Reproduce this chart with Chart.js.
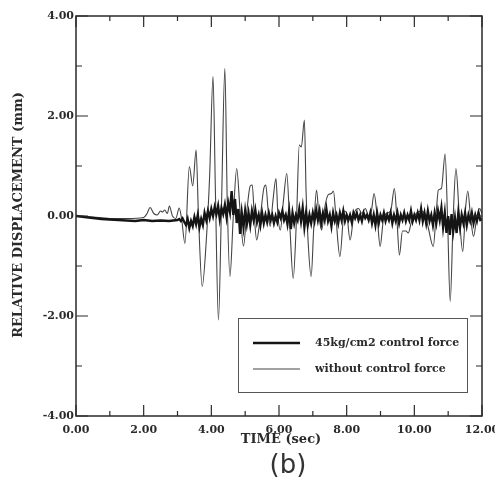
<!DOCTYPE html>
<html>
<head>
<meta charset="utf-8">
<script src="https://cdn.jsdelivr.net/npm/chart.js@4.4.1/dist/chart.umd.min.js"></script>
<style>
html, body { margin: 0; padding: 0; background: #fff; }
canvas { display: block; }
</style>
</head>
<body>
<canvas id="chart" width="495" height="493"></canvas>
<script>

// tick positions
var xMajor = [0, 2, 4, 6, 8, 10, 12];
var xMinor = [1, 3, 5, 7, 9, 11];
var yMajor = [-4, -2, 0, 2, 4];
var yMinor = [-3, -1, 1, 3];

// "without control force": [time (sec), displacement (mm)] read at the turning points
var freeResponse = [
	[0, 0], [0.5, -0.02], [1.0, -0.05], [1.5, -0.05], [2.0, -0.03], [2.1, 0.05],
	[2.19, 0.17], [2.3, 0.05], [2.4, 0.02], [2.5, 0.1], [2.56, 0.08], [2.62, 0.12],
	[2.7, 0.05], [2.76, 0.2], [2.85, 0.0], [2.95, -0.05], [3.05, 0.16], [3.12, -0.05],
	[3.22, -0.55], [3.35, 0.99], [3.45, 0.6], [3.55, 1.32], [3.62, 0.0], [3.73, -1.41],
	[3.85, -0.5], [3.95, 0.8], [4.05, 2.79], [4.12, 0.5], [4.21, -2.08], [4.30, 0.2],
	[4.40, 2.95], [4.47, 0.3], [4.55, -1.21], [4.65, 0.0], [4.75, 0.95], [4.85, 0.1],
	[4.95, -0.6], [5.05, 0.1], [5.15, 0.6], [5.21, 0.62], [5.27, 0.0], [5.34, -0.48],
	[5.45, 0.0], [5.55, 0.55], [5.61, 0.62], [5.68, 0.1], [5.74, -0.21], [5.82, 0.3],
	[5.91, 0.75], [5.97, 0.0], [6.04, -0.28], [6.13, 0.3], [6.23, 0.85], [6.32, -0.2],
	[6.42, -1.25], [6.52, 0.0], [6.60, 1.42], [6.66, 1.38], [6.75, 1.92], [6.80, 0.5],
	[6.86, -0.5], [6.95, -1.21], [7.03, -0.2], [7.11, 0.52], [7.18, 0.0], [7.26, -0.28],
	[7.36, 0.2], [7.45, 0.42], [7.55, 0.45], [7.61, 0.5], [7.68, 0.0], [7.80, -0.81],
	[7.93, 0.1], [8.00, 0.05], [8.10, -0.48], [8.22, 0.05], [8.35, 0.15], [8.45, 0.05],
	[8.55, 0.15], [8.65, 0.0], [8.73, 0.1], [8.81, 0.45], [8.90, 0.0], [8.99, -0.61],
	[9.08, -0.1], [9.17, 0.05], [9.30, 0.1], [9.41, 0.55], [9.48, 0.0], [9.56, -0.78],
	[9.65, -0.3], [9.75, -0.3], [9.82, -0.34], [9.92, -0.1], [10.05, 0.05], [10.2, 0.1],
	[10.3, 0.05], [10.40, -0.2], [10.56, -0.61], [10.65, 0.1], [10.71, 0.52], [10.80, 0.55],
	[10.91, 1.24], [10.98, 0.0], [11.06, -1.71], [11.15, 0.0], [11.23, 0.95], [11.33, 0.0],
	[11.43, -0.71], [11.52, 0.2], [11.58, 0.5], [11.66, 0.0], [11.75, -0.41], [11.85, 0.0],
	[11.93, 0.15], [12.0, 0.05]
];

// "45kg/cm2 control force": sampled every 0.25 s up to 2.75 s ...
var controlEarly = [0, -0.02, -0.04, -0.06, -0.07, -0.08, -0.09, -0.1, -0.08, -0.1, -0.09, -0.1];
// ... then every 0.05 s from 3.00 s to 12.00 s
var controlLate = [
	-0.08, -0.06, -0.1, -0.05, -0.12,
	-0.18, -0.06, -0.24, -0.1, -0.2, -0.02,
	-0.16, 0.02, -0.22, -0.06, -0.18, 0.06,
	-0.08, 0.1, -0.04, 0.14, 0.0, 0.18,
	0.04, 0.2, -0.06, 0.16, 0.04, 0.22,
	-0.02, 0.26, 0.08, 0.5, 0.02, 0.34,
	-0.14, 0.14, -0.36, 0.06, -0.22, 0.1,
	-0.16, 0.06, -0.18, 0.1, -0.08, 0.12,
	-0.12, 0.02, -0.18, 0.06, -0.14, 0.02,
	-0.12, 0.06, -0.08, 0.02, -0.14, 0.0,
	-0.12, 0.06, -0.04, 0.1, -0.08, 0.02,
	-0.16, 0.1, -0.26, 0.06, -0.14, 0.02,
	-0.08, 0.14, -0.1, 0.16, -0.22, 0.06,
	-0.18, 0.02, -0.14, 0.06, -0.1, 0.12,
	-0.08, 0.1, -0.14, 0.06, -0.08, 0.14,
	-0.1, 0.02, -0.2, 0.06, -0.1, 0.02,
	-0.14, 0.06, -0.08, 0.1, -0.1, 0.02,
	-0.08, 0.02, -0.12, 0.06, -0.04, 0.06,
	-0.08, 0.02, -0.1, 0.06, -0.04, 0.02,
	-0.08, 0.06, -0.14, 0.02, -0.18, 0.06,
	-0.14, 0.02, -0.08, 0.06, -0.1, 0.02,
	-0.08, 0.06, -0.14, 0.02, -0.1, 0.06,
	-0.14, 0.02, -0.08, 0.06, -0.1, 0.02,
	-0.08, 0.1, -0.1, 0.02, -0.08, 0.06,
	-0.08, 0.14, -0.1, 0.06, -0.14, 0.1,
	-0.1, 0.02, -0.18, 0.06, -0.14, 0.1,
	-0.08, 0.16, -0.22, 0.06, -0.34, 0.0,
	-0.38, 0.04, -0.3, -0.04, -0.34, 0.06,
	-0.22, 0.02, -0.14, 0.06, -0.18, 0.02,
	-0.1, 0.06, -0.14, 0.02, -0.1, 0.06,
	-0.08, -0.06
];

var seriesNames = ['45kg/cm2 control force', 'without control force'];

function $each(arr, fn) {
	for (var i = 0; i < arr.length; i++)
		fn(i, arr[i]);
}

function controlPoints() {
	var pts = [];
	$each(controlEarly, function(i, v) { pts.push({ x: i * 0.25, y: v }); });
	$each(controlLate, function(i, v) { pts.push({ x: 3 + i * 0.05, y: v }); });
	return pts;
}

function freePoints() {
	var pts = [];
	$each(freeResponse, function(i, p) { pts.push({ x: p[0], y: p[1] }); });
	return pts;
}

var inkColor = '#2a2a2a';
var serif = '"DejaVu Serif", "Liberation Serif", serif';

var decor = {
	id: 'decor',
	afterDraw: function(chart) {
		var ctx = chart.ctx;
		var a = chart.chartArea;
		var xs = chart.scales.x;
		var ys = chart.scales.y;
		ctx.save();

		// frame
		ctx.strokeStyle = inkColor;
		ctx.lineWidth = 1.5;
		ctx.strokeRect(a.left, a.top, a.right - a.left, a.bottom - a.top);

		// inward ticks on all four sides
		ctx.lineWidth = 1.2;
		ctx.beginPath();
		function xTick(v, len) {
			var p = xs.getPixelForValue(v);
			ctx.moveTo(p, a.bottom); ctx.lineTo(p, a.bottom - len);
			ctx.moveTo(p, a.top); ctx.lineTo(p, a.top + len);
		}
		function yTick(v, len) {
			var p = ys.getPixelForValue(v);
			ctx.moveTo(a.left, p); ctx.lineTo(a.left + len, p);
			ctx.moveTo(a.right, p); ctx.lineTo(a.right - len, p);
		}
		$each(xMajor, function(i, v) { xTick(v, 11); });
		$each(xMinor, function(i, v) { xTick(v, 5); });
		$each(yMajor, function(i, v) { yTick(v, 12); });
		$each(yMinor, function(i, v) { yTick(v, 6); });
		ctx.stroke();

		// axis titles
		ctx.fillStyle = inkColor;
		ctx.font = 'bold 13px ' + serif;
		ctx.textAlign = 'center';
		ctx.textBaseline = 'middle';
		ctx.fillText('TIME (sec)', (a.left + a.right) / 2 + 2, 440);
		ctx.save();
		ctx.translate(19, 215);
		ctx.rotate(-Math.PI / 2);
		ctx.fillText('RELATIVE DISPLACEMENT (mm)', 0, 0);
		ctx.restore();

		// panel mark
		ctx.font = '26px "DejaVu Sans", sans-serif';
		ctx.fillStyle = '#333';
		ctx.fillText('(b)', 288, 466);

		// legend box
		var lx = 238, ly = 318, lw = 229, lh = 74;
		ctx.fillStyle = '#fff';
		ctx.fillRect(lx, ly, lw, lh);
		ctx.strokeStyle = '#555';
		ctx.lineWidth = 1;
		ctx.strokeRect(lx + 0.5, ly + 0.5, lw, lh);
		ctx.font = 'bold 11px ' + serif;
		ctx.textAlign = 'left';
		$each(chart.data.datasets, function(i, ds) {
			var y = ly + 25 + i * 26;
			ctx.strokeStyle = ds.borderColor;
			ctx.lineWidth = ds.borderWidth;
			ctx.beginPath();
			ctx.moveTo(lx + 15, y);
			ctx.lineTo(lx + 62, y);
			ctx.stroke();
			ctx.fillStyle = inkColor;
			ctx.fillText(ds.label, lx + 77, y);
		});
		ctx.restore();
	}
};

new Chart(document.getElementById('chart').getContext('2d'), {
	type: 'line',
	data: {
		datasets: [{
			label: seriesNames[0],
			data: controlPoints(),
			borderColor: '#151515',
			borderWidth: 2.4,
			pointRadius: 0,
			tension: 0
		}, {
			label: seriesNames[1],
			data: freePoints(),
			borderColor: '#444',
			borderWidth: 1.1,
			pointRadius: 0,
			cubicInterpolationMode: 'monotone'
		}]
	},
	options: {
		responsive: false,
		animation: false,
		devicePixelRatio: 1,
		layout: { padding: { top: 16, right: 13, left: 0, bottom: 0 } },
		plugins: {
			legend: { display: false },
			tooltip: { enabled: false }
		},
		scales: {
			x: {
				type: 'linear',
				min: 0,
				max: 12,
				border: { display: false },
				grid: { display: false, drawTicks: false },
				ticks: {
					stepSize: 2,
					padding: 8,
					maxRotation: 0,
					color: inkColor,
					font: { family: serif, size: 11, weight: 'bold' },
					callback: function(v) { return v.toFixed(2); }
				},
				afterFit: function(s) {
					s.height = 77;
					s.paddingLeft = 0;
					s.paddingRight = 0;
				}
			},
			y: {
				min: -4,
				max: 4,
				border: { display: false },
				grid: { display: false, drawTicks: false },
				ticks: {
					stepSize: 2,
					padding: 2,
					color: inkColor,
					font: { family: serif, size: 11, weight: 'bold' },
					callback: function(v) { return v.toFixed(2); }
				},
				afterFit: function(s) {
					s.width = 76;
					s.paddingTop = 0;
					s.paddingBottom = 0;
				}
			}
		}
	},
	plugins: [decor]
});
</script>
</body>
</html>
